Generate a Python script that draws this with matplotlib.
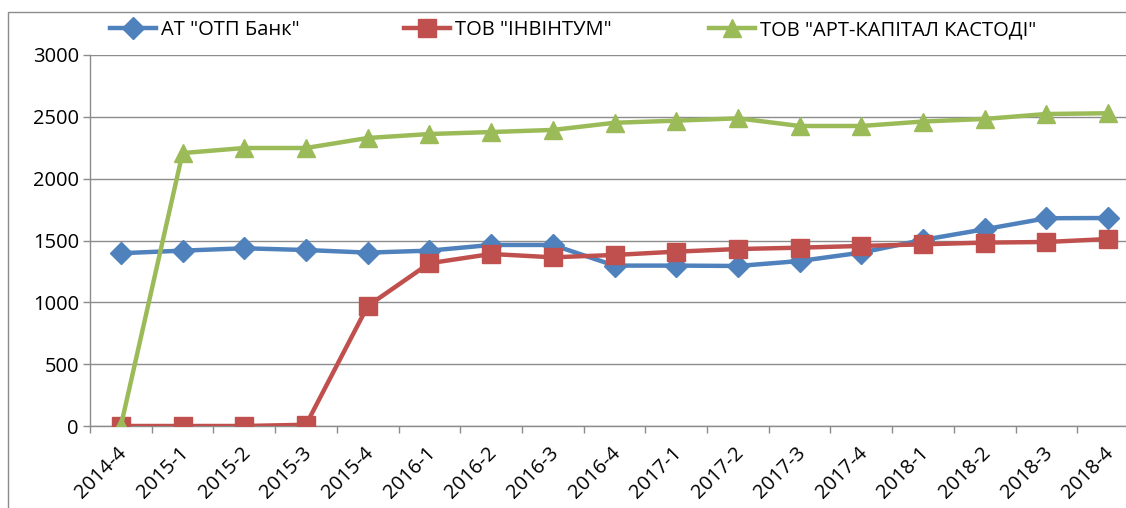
import matplotlib
matplotlib.use("Agg")
import matplotlib.pyplot as plt
from matplotlib.patches import Rectangle
from matplotlib.ticker import FixedLocator, NullFormatter
from matplotlib.transforms import ScaledTranslation

plt.rcParams['font.family'] = ['Open Sans', 'DejaVu Sans']

categories = ["2014-4", "2015-1", "2015-2", "2015-3", "2015-4", "2016-1", "2016-2",
              "2016-3", "2016-4", "2017-1", "2017-2", "2017-3", "2017-4", "2018-1",
              "2018-2", "2018-3", "2018-4"]
otp = [1397, 1418, 1437, 1423, 1402, 1418, 1464, 1464, 1297, 1297, 1294, 1334,
       1402, 1505, 1591, 1680, 1682]
invintum = [0, 0, 0, 10, 970, 1316, 1391, 1364, 1383, 1410, 1431, 1442, 1456,
            1469, 1483, 1488, 1512]
art = [0, 2207, 2248, 2248, 2329, 2361, 2377, 2394, 2452, 2469, 2488, 2426,
       2426, 2462, 2483, 2523, 2529]
series_names = ['АТ "ОТП Банк"', 'ТОВ "ІНВІНТУМ"', 'ТОВ "АРТ-КАПІТАЛ КАСТОДІ"']
yticks = [0, 500, 1000, 1500, 2000, 2500, 3000]

W, H = 1126, 508
FS = 14.5
fig = plt.figure(figsize=(W / 100, H / 100), dpi=100)
# outer chart border
fig.patches.append(Rectangle((8 / W, -0.1), 1.2, 1 - 12 / H + 0.1, transform=fig.transFigure,
                             fill=False, edgecolor='#8c8c8c', linewidth=1.0))

left, right = 90 / W, 1139 / W
bottom, top = 1 - 426 / H, 1 - 55 / H
ax = fig.add_axes([left, bottom, right - left, top - bottom])

x = list(range(len(categories)))
l1, = ax.plot(x, otp, color='#4F81BD', lw=3.2, marker='D', ms=11,
              mec='#4F81BD', mfc='#4F81BD', label=series_names[0], zorder=3)
l2, = ax.plot(x, invintum, color='#C0504D', lw=3.2, marker='s', ms=12.5,
              mec='#C0504D', mfc='#C0504D', label=series_names[1], zorder=4)
l3, = ax.plot(x, art, color='#9BBB59', lw=3.2, marker='^', ms=13,
              mec='#9BBB59', mfc='#9BBB59', label=series_names[2], zorder=5)

ax.set_xlim(-0.5, len(categories) - 0.5)
ax.set_ylim(0, 3000)
ax.set_yticks(yticks)
ax.set_yticklabels([str(v) for v in yticks], fontsize=FS)
ax.yaxis.grid(True, color='#8c8c8c', linewidth=1.0)
ax.set_axisbelow(True)

ax.set_xticks(x)
ax.set_xticklabels(categories, rotation=45, ha='right', rotation_mode='anchor',
                   fontsize=FS)
ax.tick_params(axis='x', which='major', length=0, pad=12)
ax.xaxis.set_minor_locator(FixedLocator([i - 0.5 for i in range(len(categories) + 1)]))
ax.xaxis.set_minor_formatter(NullFormatter())
ax.tick_params(axis='x', which='minor', length=5, color='#8c8c8c', width=1)
ax.tick_params(axis='y', length=5, color='#8c8c8c', width=1, pad=3)
for lab in ax.get_xticklabels():
    lab.set_transform(lab.get_transform() + ScaledTranslation(-4 / 100, 0, fig.dpi_scale_trans))

for s in ['top', 'right']:
    ax.spines[s].set_visible(False)
for s in ['left', 'bottom']:
    ax.spines[s].set_color('#8c8c8c')
    ax.spines[s].set_linewidth(1.0)

for h, xpos in zip([l1, l2, l3], [110, 404, 709]):
    fig.legend(handles=[h], loc='center left', bbox_to_anchor=(xpos / W, 1 - 30 / H),
               frameon=False, fontsize=FS, handlelength=2.3, handletextpad=0.25,
               borderpad=0, borderaxespad=0)

fig.savefig('out.png', dpi=100)
